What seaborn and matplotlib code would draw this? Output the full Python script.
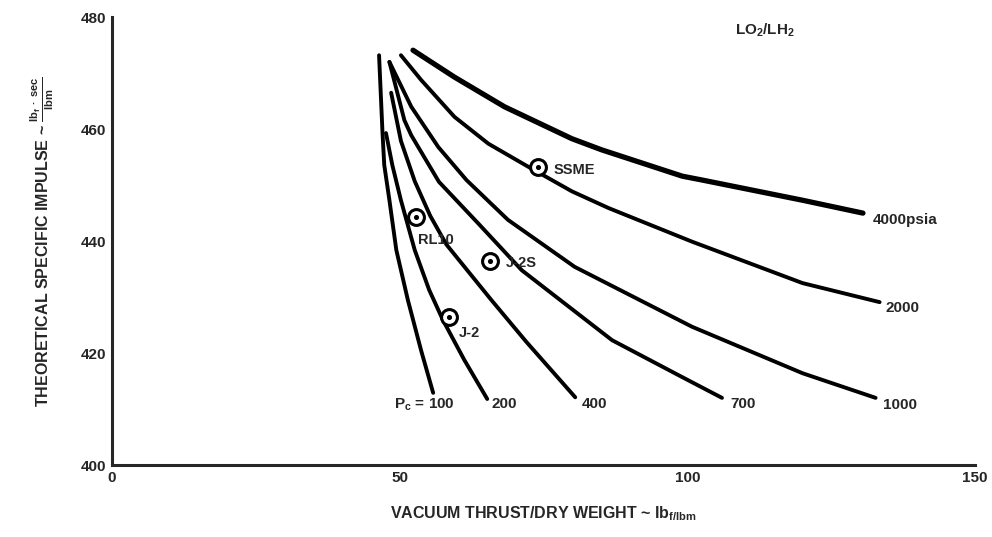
import pandas as pd
import matplotlib.pyplot as plt
import seaborn as sns

# curve data: (thrust/weight, Isp) for each chamber pressure
pc_100_x = [46.4, 47.0, 47.3, 48.2, 49.4, 51.4, 53.7, 55.8]
pc_100_y = [473.2, 459.3, 453.6, 447.3, 438.4, 429.5, 420.5, 412.9]
pc_200_x = [47.6, 48.7, 50.2, 52.6, 55.1, 57.5, 61.2, 65.2]
pc_200_y = [459.3, 453.6, 447.3, 438.4, 431.3, 425.9, 418.8, 411.8]
pc_400_x = [48.5, 50.2, 52.6, 55.3, 58.1, 65.9, 72.0, 80.5]
pc_400_y = [466.5, 457.9, 450.7, 444.5, 439.4, 429.5, 422.0, 412.1]
pc_700_x = [48.2, 50.8, 52.0, 56.8, 63.6, 71.2, 86.9, 99.1, 106.0]
pc_700_y = [472.0, 461.6, 458.9, 450.6, 443.2, 434.8, 422.3, 415.7, 412.0]
pc_1000_x = [48.2, 52.0, 56.7, 61.6, 68.8, 80.4, 100.8, 120.0, 132.7]
pc_1000_y = [472.0, 464.0, 456.8, 450.9, 443.8, 435.4, 424.7, 416.4, 412.0]
pc_2000_x = [50.2, 53.7, 59.5, 65.4, 72.3, 79.9, 86.3, 100.8, 120.0, 133.4]
pc_2000_y = [473.2, 468.8, 462.2, 457.4, 453.3, 448.9, 445.9, 439.9, 432.5, 429.1]
pc_4000_x = [52.3, 59.5, 68.2, 79.9, 85.1, 99.1, 102.6, 120.0, 130.5]
pc_4000_y = [474.1, 469.3, 464.0, 458.3, 456.3, 451.6, 450.9, 447.3, 445.0]

# engines
engines = ['SSME', 'RL10', 'J-2S', 'J-2']
engine_x = [74.1, 52.9, 65.6, 58.6]
engine_y = [453.2, 444.3, 436.4, 426.4]

x_ticks = [0, 50, 100, 150]
y_ticks = [400, 420, 440, 460, 480]

curves = [
    ('100', pc_100_x, pc_100_y),
    ('200', pc_200_x, pc_200_y),
    ('400', pc_400_x, pc_400_y),
    ('700', pc_700_x, pc_700_y),
    ('1000', pc_1000_x, pc_1000_y),
    ('2000', pc_2000_x, pc_2000_y),
    ('4000', pc_4000_x, pc_4000_y),
]
df = pd.concat([pd.DataFrame({'pc': n, 'tw': xs, 'isp': ys}) for n, xs, ys in curves])

sns.set_style('white')
plt.rcParams['font.family'] = ['Liberation Sans', 'DejaVu Sans']
plt.rcParams['font.weight'] = 'bold'
plt.rcParams['mathtext.default'] = 'bf'
plt.rcParams['mathtext.fontset'] = 'custom'
plt.rcParams['mathtext.bf'] = 'Liberation Sans:bold'
plt.rcParams['mathtext.rm'] = 'Liberation Sans:bold'

fig = plt.figure(figsize=(9.92, 5.37), dpi=100)
ax = fig.add_axes([0.113, 0.134, 0.870, 0.834])

widths = {'4000': 3.8}
for name, sub in df.groupby('pc', sort=False):
    sns.lineplot(data=sub, x='tw', y='isp', sort=False, color='black',
                 lw=widths.get(name, 2.8), ax=ax, legend=False)

# engine markers: open circle with a dot inside
ax.scatter(engine_x, engine_y, s=130, facecolors='white', edgecolors='black',
           linewidths=2.2, zorder=5)
ax.scatter(engine_x, engine_y, s=7, color='black', zorder=6)

label_off = {'SSME': (2.6, -0.5), 'RL10': (0.3, -4.1), 'J-2S': (2.9, -0.3), 'J-2': (1.7, -2.8)}
for name, ex, ey in zip(engines, engine_x, engine_y):
    dx, dy = label_off[name]
    ax.text(ex + dx, ey + dy, name, fontsize=10.5, fontweight='bold', va='center', ha='left')

# pressure labels at the curve ends
ax.text(49.0, 410.7, r'P$_\mathregular{c}$ = 100', fontsize=11, va='center', ha='left')
ax.text(65.9, 410.9, '200', fontsize=11, va='center', ha='left')
ax.text(81.6, 410.9, '400', fontsize=11, va='center', ha='left')
ax.text(107.4, 410.9, '700', fontsize=11, va='center', ha='left')
ax.text(134.0, 410.7, '1000', fontsize=11, va='center', ha='left')
ax.text(134.5, 428.0, '2000', fontsize=11, va='center', ha='left')
ax.text(132.2, 443.8, '4000psia', fontsize=11, va='center', ha='left')
ax.text(108.3, 477.6, r'LO$_\mathregular{2}$/LH$_\mathregular{2}$', fontsize=11, va='center', ha='left')

ax.set_xlim(0, 150)
ax.set_ylim(400, 480)
ax.set_xticks(x_ticks)
ax.set_yticks(y_ticks)
ax.tick_params(direction='in', length=7, width=2, labelsize=11, pad=4)
for lab in ax.get_xticklabels() + ax.get_yticklabels():
    lab.set_fontweight('bold')
sns.despine(ax=ax)
ax.spines['left'].set_linewidth(2.2)
ax.spines['bottom'].set_linewidth(2.2)

ax.set_xlabel(r'VACUUM THRUST/DRY WEIGHT ~ lb$_\mathregular{f/lbm}$', fontsize=11.5,
              fontweight='bold', labelpad=14)
ax.set_ylabel(r'THEORETICAL SPECIFIC IMPULSE ~ $\frac{\mathregular{lb_f\ ·\ sec}}{\mathregular{lbm}}$',
              fontsize=11.5, fontweight='bold', labelpad=18)

fig.savefig('out.png', dpi=100)
